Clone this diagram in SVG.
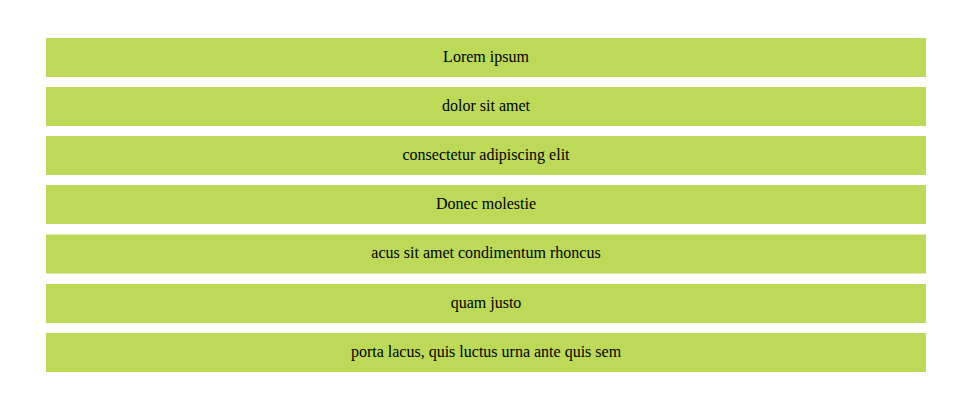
<svg xmlns="http://www.w3.org/2000/svg" width="970" height="413" viewBox="0 0 970 413">
<style>
.bar{fill:#bcda57}
.lbl{font-family:"Liberation Serif","Times New Roman",serif;font-size:16px;fill:#000;text-anchor:middle;dominant-baseline:central}
</style>
<rect width="970" height="413" fill="#fff"/>
<g id="n1"><rect class="bar" x="46" y="38" width="880" height="39"/><text class="lbl" x="486" y="56">Lorem ipsum</text></g>
<g id="n2"><rect class="bar" x="46" y="87" width="880" height="39"/><text class="lbl" x="486" y="105">dolor sit amet</text></g>
<g id="n3"><rect class="bar" x="46" y="136" width="880" height="39"/><text class="lbl" x="486" y="154">consectetur adipiscing elit</text></g>
<g id="n4"><rect class="bar" x="46" y="185" width="880" height="39"/><text class="lbl" x="486" y="203">Donec molestie</text></g>
<g id="n5"><rect class="bar" x="46" y="234.5" width="880" height="39"/><text class="lbl" x="486" y="252.5">acus sit amet condimentum rhoncus</text></g>
<g id="n6"><rect class="bar" x="46" y="284" width="880" height="39"/><text class="lbl" x="486" y="302">quam justo</text></g>
<g id="n7"><rect class="bar" x="46" y="333" width="880" height="39"/><text class="lbl" x="486" y="351">porta lacus, quis luctus urna ante quis sem</text></g>
<g id="connectors"></g>
</svg>
